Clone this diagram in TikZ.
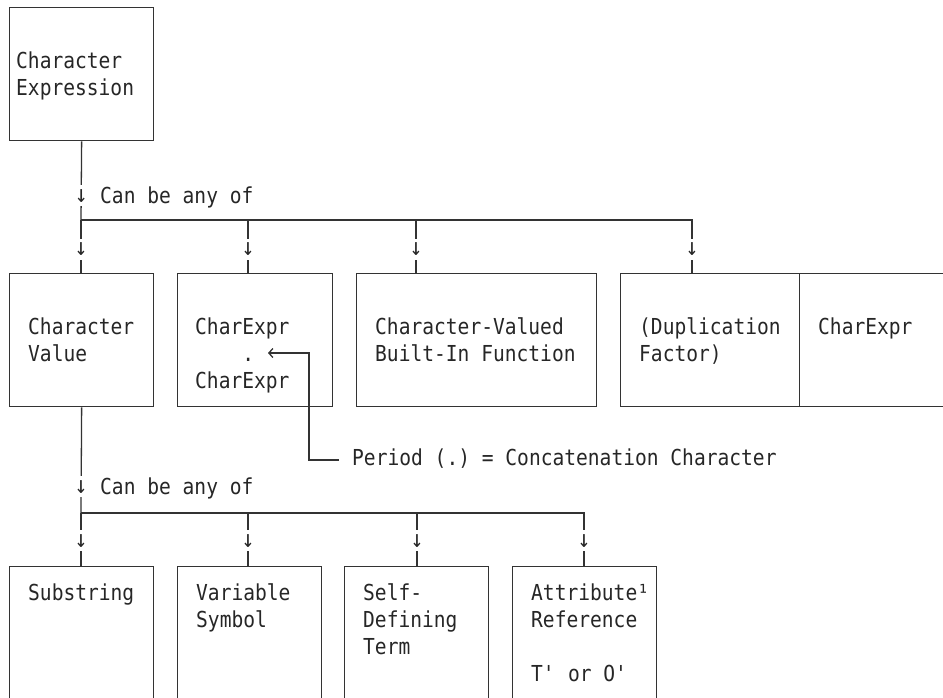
\documentclass[tikz,border=0pt]{standalone}
\usepackage{fontspec}
\usepackage{tikz}
\usetikzlibrary{arrows.meta, positioning}
\newfontfamily\monofam[FakeStretch=0.89]{DejaVu Sans Mono}
\newcommand\mono{\monofam\fontsize{22}{27}\selectfont\frenchspacing}
\newcommand\arrfont{\monofam\fontsize{24}{24}\selectfont}
\tikzset{
  box/.style    = {rectangle, draw=black!80, line width=1.3pt, inner sep=0pt, anchor=north west},
  txt/.style    = {inner sep=0pt, anchor=north west, align=left, font=\mono, text=black!85},
  wire/.style   = {draw=black!80, line width=1.3pt},
  darr/.style   = {fill=white, inner sep=0pt, minimum height=21pt, font=\arrfont, text=black!85},
  larrow/.style = {wire, -{Straight Barb[length=4pt, width=9pt]}},
}

\begin{document}
\begin{tikzpicture}[x=1pt, y=-1pt]
    \useasboundingbox (0,0) rectangle (943,697);

    %% Character expression
    \node[box, minimum width=144pt, minimum height=133pt] (expr) at (9,7) {};
    \node[txt] (exprT) at (16,49) {\strut Character\\Expression};

    %% First level
    \coordinate (b11) at (81,220);
    \coordinate (b12) at (248,220);
    \coordinate (b13) at (416,220);
    \coordinate (b14) at (692,220);
    \node[txt] (any1) at (100,184) {\strut Can be any of};

    \node[box, minimum width=144pt, minimum height=133pt] (cval) at (9,273)   {};
    \node[box, minimum width=155pt, minimum height=133pt] (cat)  at (177,273) {};
    \node[box, minimum width=240pt, minimum height=133pt] (bif)  at (356,273) {};
    \node[box, minimum width=179pt, minimum height=133pt] (dupf) at (620,273) {};
    \node[box, minimum width=170pt, minimum height=133pt] (dupe) at (799,273) {};

    \node[txt] (cvalT) at (28,315)  {\strut Character\\Value};
    \node[txt] (catT)  at (195,315) {\strut CharExpr\\\hphantom{Char}.\\CharExpr};
    \node[txt] (bifT)  at (375,315) {\strut Character-Valued\\Built-In Function};
    \node[txt] (dupfT) at (639,315) {\strut (Duplication\\Factor)};
    \node[txt] (dupeT) at (818,315) {\strut CharExpr};

    \draw[wire] (expr.south) -- node[darr, pos=0.69] {↓} (b11);
    \draw[wire] (b11) -- (b14) -- node[darr, pos=0.55] {↓} (b14 |- dupf.north);
    \foreach \b/\n in {b11/cval, b12/cat, b13/bif}
        \draw[wire] (\b) -- node[darr, pos=0.55] {↓} (\b |- \n.north);

    %% Concatenation note
    \coordinate (dotarr) at (268,353);
    \coordinate (bend)   at (309,353);
    \node[txt, anchor=west] (per) at (352,460) {\strut Period (.) = Concatenation Character};
    \draw[larrow, shorten <=13pt] (per.west) -| (bend) -- (dotarr);

    %% Second level
    \coordinate (b21) at (81,513);
    \coordinate (b22) at (248,513);
    \coordinate (b23) at (417,513);
    \coordinate (b24) at (584,513);
    \node[txt] (any2) at (100,475) {\strut Can be any of};

    \node[box, minimum width=144pt, minimum height=150pt] (substr) at (9,566)   {};
    \node[box, minimum width=144pt, minimum height=150pt] (varsym) at (177,566) {};
    \node[box, minimum width=144pt, minimum height=150pt] (sdterm) at (344,566) {};
    \node[box, minimum width=144pt, minimum height=150pt] (attref) at (512,566) {};

    \node[txt] (substrT) at (28,581)  {\strut Substring};
    \node[txt] (varsymT) at (196,581) {\strut Variable\\Symbol};
    \node[txt] (sdtermT) at (363,581) {\strut Self-\\Defining\\Term};
    \node[txt] (attrefT) at (531,581) {\strut Attribute¹\\Reference\\[27pt]T\textquotesingle{} or O\textquotesingle};

    \draw[wire] (cval.south) -- node[darr, pos=0.75] {↓} (b21);
    \draw[wire] (b21) -- (b24) -- node[darr, pos=0.52] {↓} (b24 |- attref.north);
    \foreach \b/\n in {b21/substr, b22/varsym, b23/sdterm}
        \draw[wire] (\b) -- node[darr, pos=0.52] {↓} (\b |- \n.north);

\end{tikzpicture}
\end{document}
